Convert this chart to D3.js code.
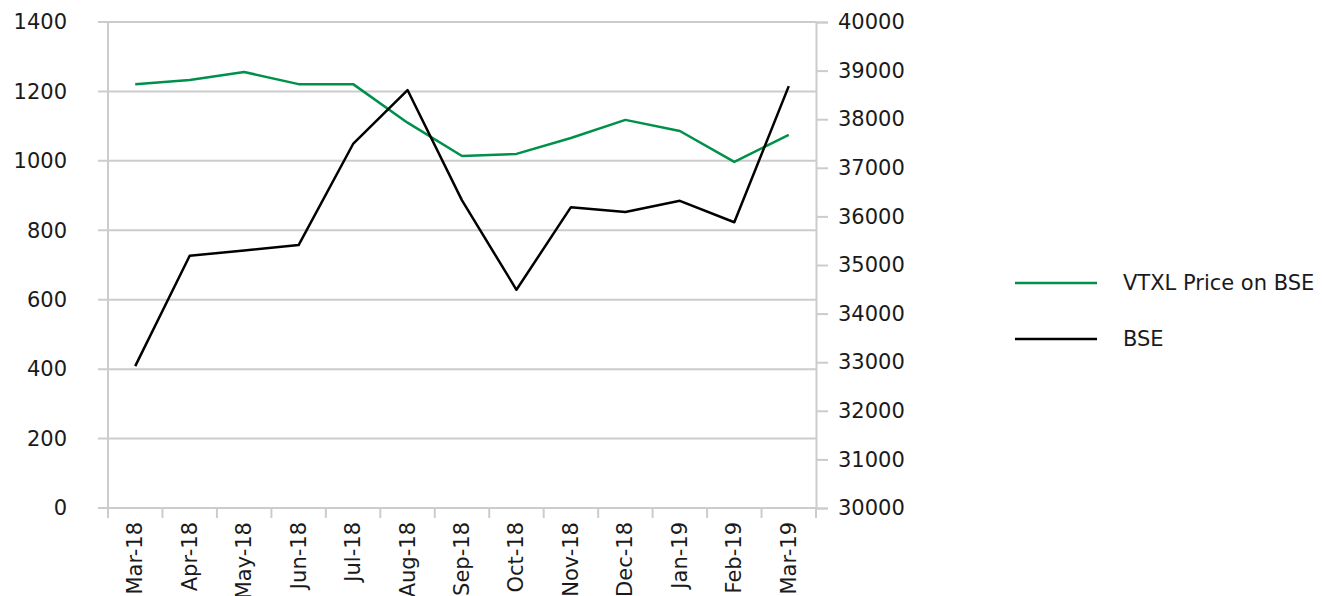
<!DOCTYPE html>
<html>
<head>
<meta charset="utf-8">
<script src="https://cdn.jsdelivr.net/npm/d3@7"></script>
<style>
  body { margin: 0; background: #fff; }
  svg text { font-family: "DejaVu Sans", sans-serif; fill: #1a1a1a; }
</style>
</head>
<body>
<div id="chart"></div>
<script>
// chart size
const width = 1322;
const height = 596;
const margin = { top: 22, right: 506, bottom: 88, left: 108 };

// data
const months = ["Mar-18", "Apr-18", "May-18", "Jun-18", "Jul-18", "Aug-18", "Sep-18",
  "Oct-18", "Nov-18", "Dec-18", "Jan-19", "Feb-19", "Mar-19"];
const vtxl = [1221, 1233, 1256, 1221, 1221, 1110, 1014, 1020, 1066, 1118, 1086, 997, 1075];
const bse = [32920, 35190, 35300, 35410, 37490, 38600, 36330, 34490, 36190, 36090, 36320, 35880, 38680];
const leftTicks = [0, 200, 400, 600, 800, 1000, 1200, 1400];
const rightTicks = [30000, 31000, 32000, 33000, 34000, 35000, 36000, 37000, 38000, 39000, 40000];
const seriesNames = ["VTXL Price on BSE", "BSE"];
const seriesColors = ["#00904a", "#000000"];

const fontSize = 21;

const svg = d3.select("#chart").append("svg")
  .attr("width", width)
  .attr("height", height);

const x = d3.scaleBand()
  .domain(months)
  .range([margin.left, width - margin.right]);

const yLeft = d3.scaleLinear()
  .domain([0, 1400])
  .range([height - margin.bottom, margin.top]);

const yRight = d3.scaleLinear()
  .domain([30000, 40000])
  .range([height - margin.bottom, margin.top]);

const gridColor = "#cccccc";

// horizontal gridlines (with little ticks to the left)
svg.append("g")
  .selectAll("line")
  .data(leftTicks)
  .join("line")
  .attr("x1", margin.left - 10)
  .attr("x2", width - margin.right)
  .attr("y1", d => yLeft(d))
  .attr("y2", d => yLeft(d))
  .attr("stroke", gridColor)
  .attr("stroke-width", 2);

// left axis line
svg.append("line")
  .attr("x1", margin.left).attr("x2", margin.left)
  .attr("y1", margin.top).attr("y2", height - margin.bottom)
  .attr("stroke", gridColor).attr("stroke-width", 2);

// left labels
svg.append("g")
  .selectAll("text")
  .data(leftTicks)
  .join("text")
  .attr("x", 67)
  .attr("y", d => yLeft(d))
  .attr("dy", "0.35em")
  .attr("text-anchor", "end")
  .attr("font-size", fontSize)
  .text(d => d);

// right axis
const rightAxis = svg.append("g")
  .attr("transform", `translate(${width - margin.right},0)`)
  .call(d3.axisRight(yRight).tickValues(rightTicks).tickSize(12).tickPadding(10).tickFormat(d3.format("d")));
rightAxis.select(".domain").attr("stroke", gridColor).attr("stroke-width", 2);
rightAxis.selectAll(".tick line").attr("stroke", gridColor).attr("stroke-width", 2);
rightAxis.selectAll(".tick text")
  .attr("font-size", fontSize)
  .attr("font-family", "DejaVu Sans, sans-serif")
  .attr("fill", "#1a1a1a");

// x axis: ticks between categories
const bounds = months.map(m => x(m)).concat([x.range()[1]]);
svg.append("g")
  .selectAll("line")
  .data(bounds)
  .join("line")
  .attr("x1", d => d).attr("x2", d => d)
  .attr("y1", height - margin.bottom)
  .attr("y2", height - margin.bottom + 10)
  .attr("stroke", gridColor)
  .attr("stroke-width", 2);

svg.append("g")
  .selectAll("text")
  .data(months)
  .join("text")
  .attr("transform", d => `translate(${x(d) + x.bandwidth() / 2 + 7},${height - margin.bottom + 14}) rotate(-90)`)
  .attr("text-anchor", "end")
  .attr("font-size", fontSize)
  .text(d => d);

// lines
const lineLeft = d3.line()
  .x((d, i) => x(months[i]) + x.bandwidth() / 2)
  .y(d => yLeft(d));

const lineRight = d3.line()
  .x((d, i) => x(months[i]) + x.bandwidth() / 2)
  .y(d => yRight(d));

svg.append("path")
  .attr("d", lineLeft(vtxl))
  .attr("fill", "none")
  .attr("stroke", seriesColors[0])
  .attr("stroke-width", 2.5)
  .attr("stroke-linejoin", "round");

svg.append("path")
  .attr("d", lineRight(bse))
  .attr("fill", "none")
  .attr("stroke", seriesColors[1])
  .attr("stroke-width", 2.5)
  .attr("stroke-linejoin", "round");

// legend
const legend = svg.append("g")
  .selectAll("g")
  .data(seriesNames)
  .join("g")
  .attr("transform", (d, i) => `translate(1015,${283 + i * 56})`);

legend.append("line")
  .attr("x1", 0).attr("x2", 82)
  .attr("stroke", (d, i) => seriesColors[i])
  .attr("stroke-width", 2.5);

legend.append("text")
  .attr("x", 108)
  .attr("dy", "0.35em")
  .attr("font-size", fontSize)
  .text(d => d);
</script>
</body>
</html>
